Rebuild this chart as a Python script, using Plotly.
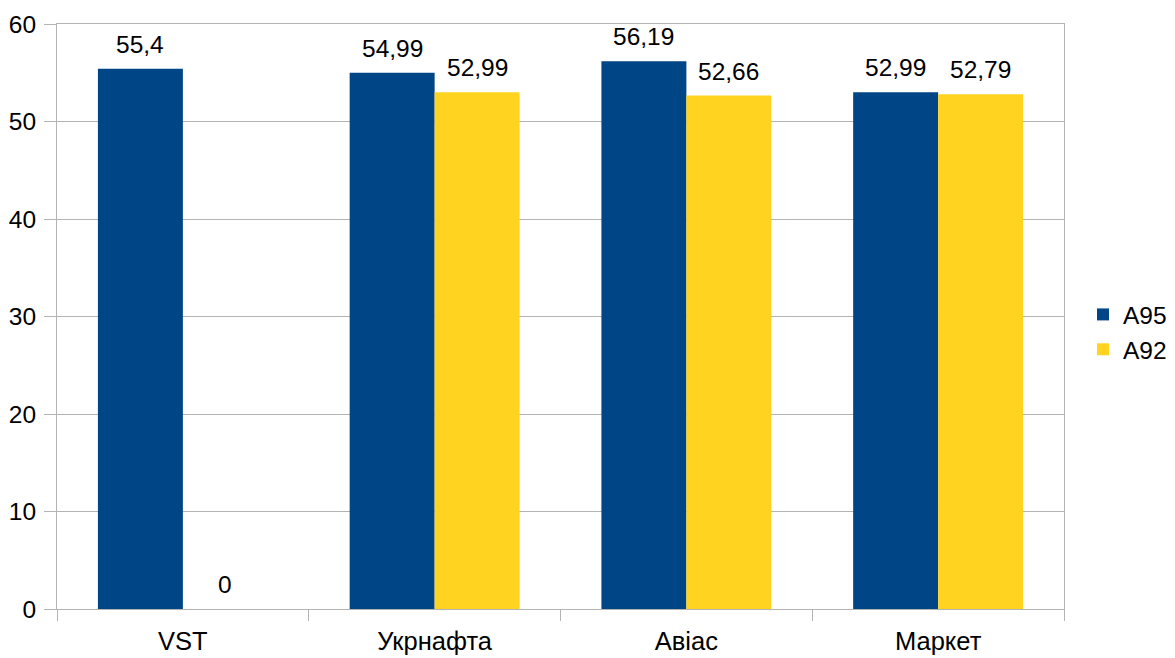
import plotly.graph_objects as go

categories = ["VST", "Укрнафта", "Авіас", "Маркет"]
a95 = [55.4, 54.99, 56.19, 52.99]
a92 = [0, 52.99, 52.66, 52.79]
series_names = ["A95", "A92"]
colors = ["#004586", "#ffd320"]

FONT = "Liberation Sans"
FS = 24.5
BAR_PX = 85  # approximate bar width in px for label offset

def fmt(v):
    return ("%g" % v).replace(".", ",")

fig = go.Figure()
for name, vals, col in zip(series_names, [a95, a92], colors):
    fig.add_trace(go.Bar(
        x=categories, y=vals, name=name, marker=dict(color=col, line=dict(width=0)),
    ))

annots = []
for i, vals in enumerate([a95, a92]):
    shift = (-0.5 if i == 0 else 0.5) * BAR_PX
    for c, v in zip(categories, vals):
        annots.append(dict(x=c, y=v, xref="x", yref="y", text=fmt(v), showarrow=False,
                           xanchor="center", yanchor="bottom", xshift=shift, yshift=9,
                           font=dict(family=FONT, size=FS, color="#000000")))

fig.update_layout(
    barmode="group", bargap=0.325, bargroupgap=0,
    width=1175, height=658,
    margin=dict(l=57, r=111, t=24, b=49, autoexpand=False),
    paper_bgcolor="white", plot_bgcolor="white",
    font=dict(family=FONT, size=FS, color="#000000"),
    legend=dict(xref="container", yref="container", x=1083/1175, y=1 - 332/658,
                xanchor="left", yanchor="middle",
                font=dict(size=FS), itemwidth=30, tracegroupgap=0),
    showlegend=True,
    annotations=annots,
)
fig.update_yaxes(range=[0, 60], dtick=10, showgrid=True, gridcolor="#b3b3b3", gridwidth=1,
                 ticks="outside", ticklen=12, tickcolor="#b3b3b3", showline=True,
                 linecolor="#b3b3b3", linewidth=1, mirror=True, zeroline=False,
                 ticklabelstandoff=3, tickfont=dict(size=FS))
fig.update_xaxes(showline=True, linecolor="#b3b3b3", linewidth=1, mirror=True,
                 ticks="outside", tickson="boundaries", ticklen=11, tickcolor="#b3b3b3",
                 tickfont=dict(size=25.5), ticklabelstandoff=9)

fig.write_html("out.html")
